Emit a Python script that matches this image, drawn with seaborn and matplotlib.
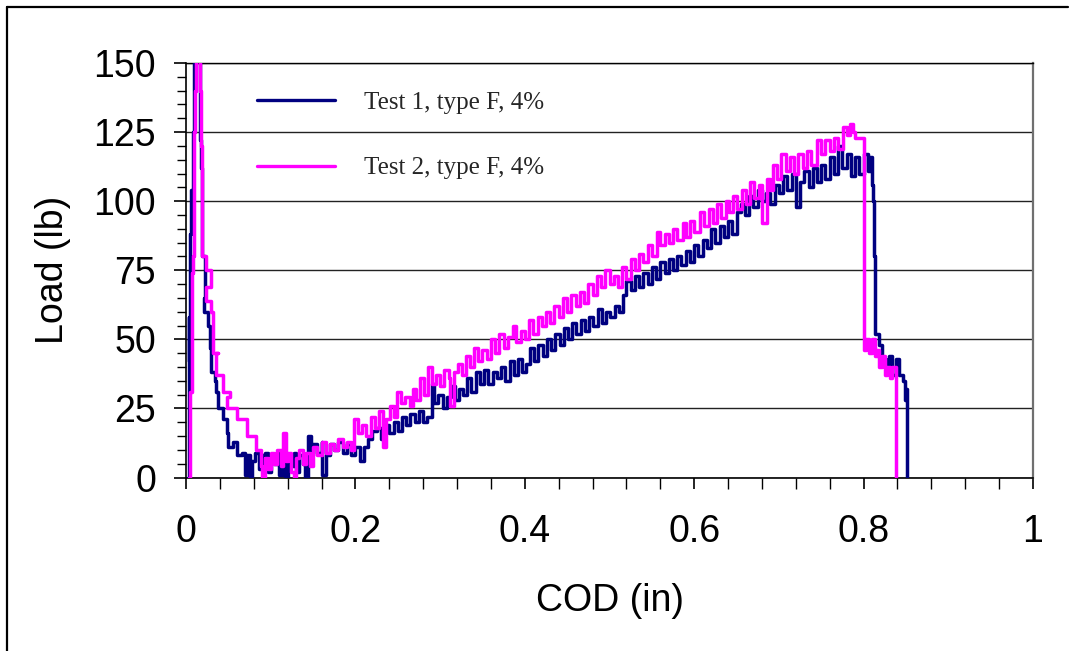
import numpy as np
import pandas as pd
import matplotlib
matplotlib.use("Agg")
import matplotlib.pyplot as plt
import seaborn as sns
from matplotlib.lines import Line2D
from matplotlib.ticker import MultipleLocator, FuncFormatter

# ---------------- data ----------------
series_labels = ["Test 1, type F, 4%", "Test 2, type F, 4%"]
series_colors = ["#000080", "#FF00FF"]

test1_cod = [0.002, 0.003, 0.003, 0.004, 0.004, 0.005, 0.005, 0.006, 0.007, 0.008,
             0.009, 0.010, 0.012, 0.014, 0.016, 0.016, 0.018, 0.0185, 0.0185, 0.022,
             0.021, 0.026, 0.028, 0.030, 0.034, 0.036, 0.038, 0.044, 0.048, 0.050,
             0.055, 0.060, 0.066, 0.070, 0.072, 0.075, 0.078, 0.082, 0.086, 0.090,
             0.093, 0.097, 0.100, 0.104, 0.107, 0.110, 0.113, 0.117, 0.120, 0.124,
             0.127, 0.130, 0.134, 0.138, 0.141, 0.144, 0.147, 0.150, 0.155, 0.160,
             0.161, 0.165, 0.170, 0.175, 0.180, 0.185, 0.190, 0.195, 0.200, 0.205,
             0.210, 0.215, 0.220, 0.225, 0.230, 0.235, 0.240, 0.245, 0.250, 0.255,
             0.260, 0.265, 0.270, 0.275, 0.280, 0.285, 0.290, 0.293, 0.298, 0.303,
             0.308, 0.313, 0.318, 0.322, 0.327, 0.332, 0.337, 0.342, 0.347, 0.352,
             0.357, 0.362, 0.367, 0.372, 0.377, 0.382, 0.387, 0.392, 0.397, 0.402,
             0.406, 0.411, 0.416, 0.421, 0.426, 0.431, 0.436, 0.441, 0.446, 0.451,
             0.456, 0.461, 0.466, 0.471, 0.476, 0.481, 0.486, 0.491, 0.496, 0.501,
             0.506, 0.511, 0.516, 0.520, 0.525, 0.530, 0.535, 0.540, 0.545, 0.550,
             0.555, 0.560, 0.565, 0.570, 0.575, 0.580, 0.585, 0.590, 0.595, 0.600,
             0.605, 0.610, 0.615, 0.620, 0.625, 0.630, 0.635, 0.640, 0.645, 0.650,
             0.655, 0.660, 0.665, 0.670, 0.675, 0.680, 0.685, 0.690, 0.695, 0.700,
             0.705, 0.710, 0.715, 0.720, 0.725, 0.730, 0.735, 0.740, 0.745, 0.750,
             0.755, 0.760, 0.765, 0.770, 0.775, 0.780, 0.785, 0.790, 0.795, 0.800,
             0.805, 0.808, 0.810, 0.811, 0.812, 0.813, 0.814, 0.818, 0.822, 0.826,
             0.830, 0.834, 0.838, 0.842, 0.846, 0.848, 0.849, 0.850, 0.851, 0.851]
test1_load = [0, 0, 30, 58, 42, 50, 88, 104, 96, 125,
              140, 152, 158, 156, 150, 122, 112, 108, 80, 65,
              60, 55, 47, 38, 35, 31, 25, 21, 16, 11,
              13, 8, 9, 1, 8, 0, 6, 9, 3, 8,
              9, 2, 7, 5, 9, 1, 6, 0, 8, 4,
              9, 2, 8, 5, 0, 15, 8, 12, 9, 13,
              1, 8, 12, 10, 13, 9, 12, 8, 11, 6,
              11, 14, 17, 18, 14, 19, 16, 20, 17, 22,
              19, 23, 20, 24, 20, 22, 34, 27, 30, 25,
              29, 33, 28, 32, 30, 36, 31, 38, 34, 39,
              34, 38, 36, 40, 35, 42, 37, 43, 38, 41,
              47, 42, 48, 44, 50, 46, 52, 48, 54, 50,
              56, 52, 57, 53, 58, 55, 61, 56, 60, 58,
              62, 60, 66, 71, 68, 73, 69, 74, 70, 76,
              72, 78, 74, 79, 75, 80, 77, 82, 78, 84,
              80, 86, 83, 90, 85, 91, 87, 93, 88, 96,
              99, 95, 102, 98, 104, 100, 103, 99, 106, 103,
              109, 104, 110, 98, 107, 111, 105, 112, 107, 113,
              108, 116, 110, 120, 112, 117, 109, 116, 110, 117,
              111, 116, 106, 100, 80, 60, 52, 48, 43, 38,
              44, 37, 43, 37, 35, 35, 28, 32, 25, 0]

test2_cod = [0.003, 0.004, 0.005, 0.005, 0.007, 0.007, 0.008, 0.009, 0.010, 0.011,
             0.012, 0.014, 0.016, 0.017, 0.018, 0.019, 0.019, 0.024, 0.030, 0.024,
             0.030, 0.032, 0.038, 0.036, 0.044, 0.044, 0.052, 0.048, 0.060, 0.060,
             0.072, 0.072, 0.083, 0.083, 0.088, 0.090, 0.093, 0.097, 0.100, 0.104,
             0.108, 0.112, 0.115, 0.118, 0.121, 0.124, 0.127, 0.130, 0.134, 0.138,
             0.142, 0.146, 0.150, 0.155, 0.160, 0.165, 0.170, 0.175, 0.180, 0.185,
             0.190, 0.195, 0.198, 0.203, 0.208, 0.213, 0.218, 0.223, 0.228, 0.233,
             0.236, 0.241, 0.245, 0.249, 0.254, 0.259, 0.264, 0.268, 0.272, 0.276,
             0.281, 0.286, 0.290, 0.295, 0.300, 0.305, 0.310, 0.312, 0.316, 0.321,
             0.326, 0.331, 0.335, 0.340, 0.345, 0.350, 0.355, 0.360, 0.365, 0.370,
             0.375, 0.380, 0.386, 0.390, 0.395, 0.400, 0.405, 0.410, 0.415, 0.420,
             0.425, 0.430, 0.435, 0.440, 0.445, 0.450, 0.455, 0.460, 0.465, 0.470,
             0.475, 0.480, 0.485, 0.490, 0.495, 0.500, 0.505, 0.510, 0.515, 0.520,
             0.525, 0.530, 0.535, 0.540, 0.545, 0.550, 0.556, 0.560, 0.565, 0.570,
             0.575, 0.580, 0.587, 0.590, 0.595, 0.600, 0.607, 0.612, 0.617, 0.622,
             0.627, 0.632, 0.637, 0.641, 0.646, 0.651, 0.656, 0.661, 0.666, 0.671,
             0.676, 0.680, 0.686, 0.690, 0.693, 0.698, 0.703, 0.708, 0.713, 0.718,
             0.723, 0.728, 0.733, 0.738, 0.745, 0.750, 0.755, 0.760, 0.765, 0.770,
             0.776, 0.780, 0.784, 0.788, 0.790, 0.800, 0.800, 0.803, 0.806, 0.810,
             0.813, 0.816, 0.818, 0.822, 0.825, 0.828, 0.831, 0.834, 0.838, 0.838]
test2_load = [0, 0, 20, 31, 45, 74, 80, 108, 125, 140,
              155, 158, 155, 140, 120, 100, 80, 75, 69, 64,
              60, 45, 45, 37, 35, 31, 29, 25, 25, 21,
              21, 15, 15, 10, 4, 0, 7, 3, 9, 5,
              10, 4, 16, 6, 9, 2, 0, 7, 10, 5,
              9, 4, 11, 8, 13, 9, 12, 10, 14, 11,
              13, 10, 21, 16, 19, 15, 22, 18, 24, 11,
              21, 26, 22, 31, 27, 29, 26, 32, 28, 36,
              30, 40, 34, 37, 33, 39, 36, 26, 38, 41,
              37, 44, 40, 47, 42, 46, 43, 50, 45, 52,
              47, 51, 55, 49, 53, 50, 57, 52, 58, 55,
              60, 56, 62, 58, 65, 60, 66, 62, 67, 63,
              70, 66, 73, 69, 75, 70, 73, 69, 76, 72,
              79, 75, 81, 78, 84, 80, 89, 84, 88, 85,
              90, 86, 92, 87, 93, 89, 96, 91, 97, 92,
              99, 94, 100, 96, 102, 97, 104, 99, 107, 101,
              106, 92, 108, 104, 113, 108, 117, 111, 116, 110,
              117, 112, 118, 113, 122, 117, 122, 118, 123, 119,
              127, 124, 128, 125, 123, 123, 46, 50, 45, 50,
              44, 46, 40, 44, 37, 40, 36, 40, 37, 0]

x_ticks = [0, 0.2, 0.4, 0.6, 0.8, 1.0]
y_ticks = [0, 25, 50, 75, 100, 125, 150]
x_label = "COD (in)"
y_label = "Load (lb)"

# ---------------- figure ----------------
sns.set_theme(style="white")
plt.rcParams["font.family"] = ["Liberation Sans", "DejaVu Sans"]

W, H = 1075, 651
fig = plt.figure(figsize=(W / 100, H / 100), dpi=100)
fig.patch.set_facecolor("white")
ax = fig.add_axes([186 / W, 1 - 477.5 / H, (1033 - 186) / W, (477.5 - 63) / H])

df1 = pd.DataFrame({"COD": test1_cod, "Load": test1_load})
df2 = pd.DataFrame({"COD": test2_cod, "Load": test2_load})
sns.lineplot(data=df1, x="COD", y="Load", sort=False, estimator=None,
             color=series_colors[0], lw=2.5, ax=ax, label=series_labels[0],
             zorder=3, drawstyle="steps-post")
sns.lineplot(data=df2, x="COD", y="Load", sort=False, estimator=None,
             color=series_colors[1], lw=2.5, ax=ax, label=series_labels[1],
             zorder=4, drawstyle="steps-post")

ax.set_xlim(x_ticks[0], x_ticks[-1])
ax.set_ylim(y_ticks[0], y_ticks[-1])
ax.set_xticks(x_ticks)
ax.set_yticks(y_ticks)
ax.xaxis.set_minor_locator(MultipleLocator(0.04))
ax.yaxis.set_minor_locator(MultipleLocator(5))
ax.xaxis.set_major_formatter(FuncFormatter(lambda v, p: f"{v:g}"))
ax.yaxis.set_major_formatter(FuncFormatter(lambda v, p: f"{v:g}"))

ax.tick_params(axis="both", which="both", direction="out", colors="black",
               labelsize=27, bottom=True, left=True, top=False, right=False)
ax.tick_params(axis="x", which="major", length=8, width=1.2, pad=18)
ax.tick_params(axis="x", which="minor", length=8, width=1.0)
ax.tick_params(axis="y", which="major", length=8.5, width=1.2, pad=13)
ax.tick_params(axis="y", which="minor", length=6.5, width=1.0)

ax.yaxis.grid(True, which="major", color="#222222", lw=1.0, zorder=0)
ax.xaxis.grid(False)
ax.set_axisbelow(True)

for side in ["left", "bottom", "top"]:
    ax.spines[side].set_color("black")
    ax.spines[side].set_linewidth(1.2)
ax.spines["top"].set_linewidth(1.0)
ax.spines["right"].set_color("#707070")
ax.spines["right"].set_linewidth(1.6)

ax.set_xlabel(x_label, fontsize=27, labelpad=24, color="black")
ax.set_ylabel(y_label, fontsize=27, labelpad=16, color="black")

leg = ax.legend(loc="upper left", bbox_to_anchor=(257 / W, 1 - 91 / H),
                bbox_transform=fig.transFigure, frameon=False,
                prop={"family": ["Liberation Serif", "DejaVu Serif"], "size": 18},
                handlelength=3.1, handletextpad=1.2, labelspacing=1.73,
                borderpad=0, borderaxespad=0)
for lh in leg.get_lines():
    lh.set_linewidth(2.4)
    lh.set_drawstyle("default")

# outer frame lines of the original chart area
fig.add_artist(Line2D([7 / W, 7 / W], [0, 1 - 7 / H], color="black", lw=1.6,
                      transform=fig.transFigure))
fig.add_artist(Line2D([7 / W, 1068 / W], [1 - 7 / H, 1 - 7 / H], color="black", lw=1.6,
                      transform=fig.transFigure))

fig.savefig("out.png", dpi=100, facecolor="white")
